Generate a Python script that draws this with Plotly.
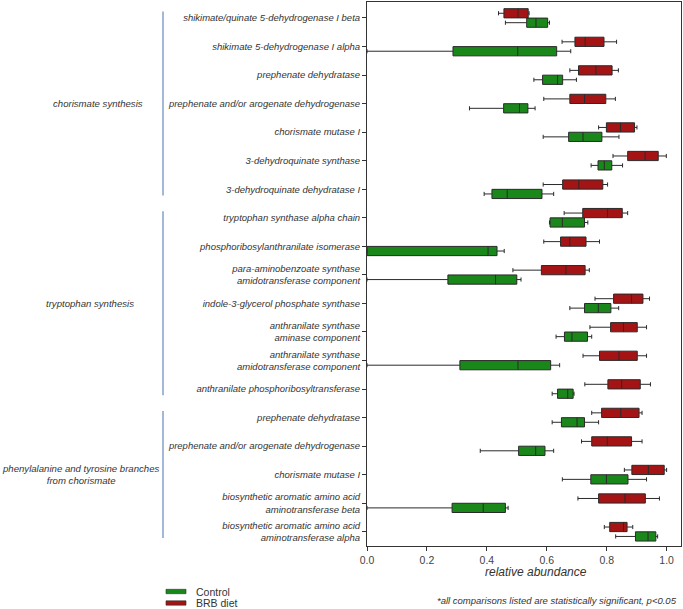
import plotly.graph_objects as go

labels = [
    "shikimate/quinate 5-dehydrogenase I beta",
    "shikimate 5-dehydrogenase I alpha",
    "prephenate dehydratase",
    "prephenate and/or arogenate dehydrogenase",
    "chorismate mutase I",
    "3-dehydroquinate synthase",
    "3-dehydroquinate dehydratase I",
    "tryptophan synthase alpha chain",
    "phosphoribosylanthranilate isomerase",
    "para-aminobenzoate synthase<br>amidotransferase component",
    "indole-3-glycerol phosphate synthase",
    "anthranilate synthase<br>aminase component",
    "anthranilate synthase<br>amidotransferase component",
    "anthranilate phosphoribosyltransferase",
    "prephenate dehydratase",
    "prephenate and/or arogenate dehydrogenase",
    "chorismate mutase I",
    "biosynthetic aromatic amino acid<br>aminotransferase beta",
    "biosynthetic aromatic amino acid<br>aminotransferase alpha",
]

group_names = ["chorismate synthesis", "tryptophan synthesis",
               "phenylalanine and tyrosine branches<br>from chorismate"]
group_first = [0, 7, 14]
group_last = [6, 13, 18]

ctrl_lo  = [0.462, 0.0, 0.557, 0.342, 0.588, 0.748, 0.391, 0.609, 0.0, 0.0, 0.677, 0.631, 0.0, 0.618, 0.618, 0.378, 0.652, 0.0, 0.830]
ctrl_q1  = [0.533, 0.287, 0.586, 0.456, 0.673, 0.771, 0.417, 0.611, 0.0, 0.270, 0.726, 0.659, 0.310, 0.636, 0.649, 0.506, 0.747, 0.284, 0.896]
ctrl_med = [0.564, 0.503, 0.636, 0.509, 0.721, 0.792, 0.468, 0.652, 0.404, 0.429, 0.772, 0.684, 0.504, 0.670, 0.701, 0.563, 0.799, 0.388, 0.938]
ctrl_q3  = [0.603, 0.633, 0.653, 0.537, 0.784, 0.817, 0.584, 0.726, 0.434, 0.500, 0.814, 0.736, 0.613, 0.688, 0.726, 0.594, 0.871, 0.462, 0.964]
ctrl_hi  = [0.609, 0.680, 0.699, 0.561, 0.841, 0.853, 0.623, 0.737, 0.458, 0.514, 0.840, 0.750, 0.643, 0.691, 0.773, 0.623, 0.933, 0.471, 0.970]

brb_lo  = [0.439, 0.651, 0.677, 0.590, 0.773, 0.821, 0.588, 0.658, 0.590, 0.487, 0.761, 0.744, 0.721, 0.727, 0.750, 0.716, 0.859, 0.704, 0.792]
brb_q1  = [0.457, 0.694, 0.706, 0.677, 0.799, 0.870, 0.653, 0.720, 0.646, 0.582, 0.823, 0.813, 0.776, 0.804, 0.783, 0.750, 0.884, 0.773, 0.810]
brb_med = [0.504, 0.728, 0.764, 0.726, 0.846, 0.928, 0.707, 0.803, 0.677, 0.664, 0.883, 0.856, 0.841, 0.850, 0.847, 0.802, 0.939, 0.861, 0.856]
brb_q3  = [0.538, 0.791, 0.818, 0.797, 0.893, 0.972, 0.787, 0.852, 0.731, 0.728, 0.921, 0.902, 0.902, 0.912, 0.908, 0.883, 0.992, 0.929, 0.868]
brb_hi  = [0.541, 0.833, 0.839, 0.829, 0.901, 0.999, 0.803, 0.870, 0.776, 0.742, 0.943, 0.933, 0.933, 0.946, 0.918, 0.918, 1.000, 0.976, 0.887]

x_ticks = [0.0, 0.2, 0.4, 0.6, 0.8, 1.0]
x_ticktext = ["0.0", "0.2", "0.4", "0.6", "0.8", "1.0"]

GREEN = "#1a871a"
RED = "#a51414"
EDGE = "#2a2a2a"

positions = list(range(len(labels)))

fig = go.Figure()
fig.add_trace(go.Box(
    name="BRB diet", orientation="h", y=positions,
    lowerfence=brb_lo, q1=brb_q1, median=brb_med, q3=brb_q3, upperfence=brb_hi,
    fillcolor=RED, line=dict(color=EDGE, width=1), whiskerwidth=0.45,
    showlegend=False, hoverinfo="skip",
))
fig.add_trace(go.Box(
    name="Control", orientation="h", y=positions,
    lowerfence=ctrl_lo, q1=ctrl_q1, median=ctrl_med, q3=ctrl_q3, upperfence=ctrl_hi,
    fillcolor=GREEN, line=dict(color=EDGE, width=1), whiskerwidth=0.45,
    showlegend=False, hoverinfo="skip",
))

W, H = 683, 609
ml, mr, mt, mb = 367, 2, 2, 63
pw = W - ml - mr
ph = H - mt - mb

def px_to_paper_x(px):
    return (px - ml) / pw

def px_to_paper_y(py):
    return (H - mb - py) / ph

annotations = []
shapes = []

label_x_px = [98, 90, 80]
for name, a, b, lx in zip(group_names, group_first, group_last, label_x_px):
    annotations.append(dict(
        text=name, xref="paper", yref="y", x=px_to_paper_x(lx), y=(a + b) / 2,
        showarrow=False, xanchor="center", yanchor="middle", align="center",
        font=dict(family="Liberation Sans, Arial", size=9.6, color="#333333", style="italic"),
    ))
    shapes.append(dict(
        type="line", xref="paper", yref="y",
        x0=px_to_paper_x(163), x1=px_to_paper_x(163),
        y0=a - 0.23, y1=b + 0.22,
        line=dict(color="#6688bf", width=1.2),
    ))

# legend (custom)
leg_items = [("Control", GREEN, 591.5), ("BRB diet", RED, 603)]
for txt, col, cy in leg_items:
    shapes.append(dict(
        type="rect", xref="paper", yref="paper",
        x0=px_to_paper_x(166), x1=px_to_paper_x(186),
        y0=px_to_paper_y(cy + 2.2), y1=px_to_paper_y(cy - 2.2),
        fillcolor=col, line=dict(color=EDGE, width=0.6),
    ))
    annotations.append(dict(
        text=txt, xref="paper", yref="paper",
        x=px_to_paper_x(194), y=px_to_paper_y(cy),
        showarrow=False, xanchor="left", yanchor="middle",
        font=dict(family="Liberation Sans, Arial", size=10.5, color="#333333"),
    ))

# axis title
annotations.append(dict(
    text="relative abundance", xref="paper", yref="paper",
    x=px_to_paper_x(536), y=px_to_paper_y(572),
    showarrow=False, xanchor="center", yanchor="middle",
    font=dict(family="Liberation Sans, Arial", size=12, color="#333333", style="italic"),
))

# footnote
annotations.append(dict(
    text="*all comparisons listed are statistically significant, p<0.05",
    xref="paper", yref="paper",
    x=px_to_paper_x(679), y=px_to_paper_y(600.5),
    showarrow=False, xanchor="right", yanchor="middle",
    font=dict(family="Liberation Sans, Arial", size=9.5, color="#333333", style="italic"),
))

fig.update_layout(
    width=W, height=H,
    margin=dict(l=ml, r=mr, t=mt, b=mb),
    paper_bgcolor="white", plot_bgcolor="white",
    boxmode="group", boxgap=0.34, boxgroupgap=0.02,
    shapes=shapes, annotations=annotations,
    xaxis=dict(
        range=[0, 1.048], tickvals=x_ticks, ticktext=x_ticktext,
        showgrid=False, zeroline=False,
        showline=True, linecolor="#333333", linewidth=1, mirror=True,
        ticks="outside", ticklen=4, tickcolor="#333333",
        tickfont=dict(family="Liberation Sans, Arial", size=10.5, color="#444444"),
    ),
    yaxis=dict(
        range=[18.5, -0.56], tickvals=positions, ticktext=labels,
        showgrid=False, zeroline=False,
        showline=True, linecolor="#333333", linewidth=1, mirror=True,
        ticks="outside", ticklen=4, tickcolor="#333333",
        tickfont=dict(family="Liberation Sans, Arial", size=9.5, color="#333333", style="italic"),
    ),
)

fig.write_html(
    "out.html",
    config={"displayModeBar": False, "staticPlot": True},
    post_script="document.body.style.margin='0';document.body.style.padding='0';document.body.style.overflow='hidden';",
)
